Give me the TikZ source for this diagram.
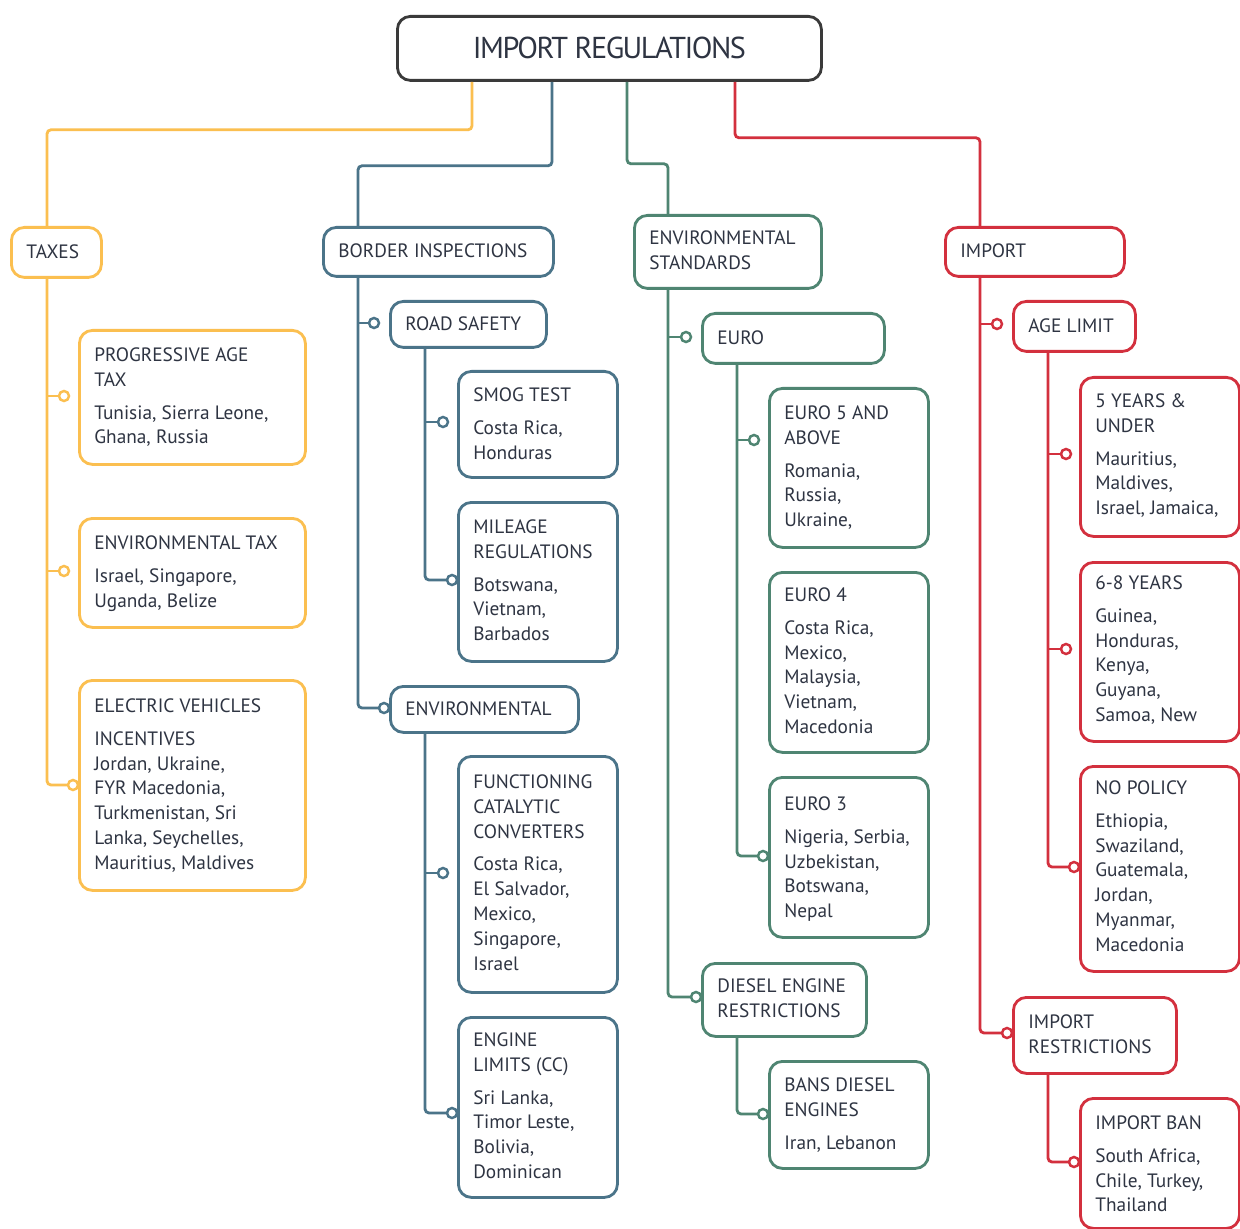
\documentclass[tikz,border=0pt]{standalone}
\usepackage{fontspec}
\setmainfont{PT Sans}
\newfontfamily\rootfont[LetterSpace=-5]{PT Sans}
\usetikzlibrary{calc}
\definecolor{cY}{HTML}{FBBF50}
\definecolor{cB}{HTML}{4B7489}
\definecolor{cG}{HTML}{4F8572}
\definecolor{cR}{HTML}{D3303E}
\definecolor{cK}{HTML}{3A3A3A}
\definecolor{txtc}{HTML}{2E3442}
\tikzset{
  box/.style={draw, line width=1.6pt, rounded corners=0.26cm, inner sep=0pt, anchor=north west},
  lbl/.style={anchor=north west, inner sep=0pt, align=left, text=txtc, font=\fontsize{11}{14.2}\selectfont},
  conn/.style={line width=1.6pt, rounded corners=0.08cm},
  tip/.style={circle, draw, line width=1.4pt, fill=white, inner sep=0pt, minimum size=0.2cm},
}
\newcommand\gp{\\[0.16cm]}
% name, colour, x1, y1, x2, y2, text top, text
\newcommand\mybox[8]{%
  \node[box, draw=#2, minimum width={(#5-#3)*0.02cm}, minimum height={(#6-#4)*0.02cm}] (#1) at (#3,#4) {};
  \node[lbl] (#1t) at (#3+16,#7) {#8};
}
\begin{document}
\begin{tikzpicture}[x=0.02cm, y=-0.02cm]
\fill[white] (0,0) rectangle (1240,1229);
\useasboundingbox (0,0) rectangle (1240,1229);

% root
\node[box, draw=cK, minimum width={424*0.02cm}, minimum height={64*0.02cm}, text=txtc, font=\rootfont\fontsize{17.2}{20}\selectfont] (root) at (396,15) {IMPORT REGULATIONS};

% taxes branch
\mybox{taxes}{cY}{10}{226}{100}{276}{244}{TAXES}
\mybox{pat}{cY}{78}{329}{304}{463}{347}{PROGRESSIVE AGE\\TAX\gp Tunisia, Sierra Leone,\\Ghana, Russia}
\mybox{etax}{cY}{78}{517}{304}{626}{535}{ENVIRONMENTAL TAX\gp Israel, Singapore,\\Uganda, Belize}
\mybox{ev}{cY}{78}{679}{304}{889}{698}{ELECTRIC VEHICLES\gp INCENTIVES\\Jordan, Ukraine,\\FYR Macedonia,\\Turkmenistan, Sri\\Lanka, Seychelles,\\Mauritius, Maldives}

% border branch
\mybox{border}{cB}{322}{226}{552}{275}{243}{BORDER INSPECTIONS}
\mybox{road}{cB}{389}{300}{545}{346}{316}{ROAD SAFETY}
\mybox{smog}{cB}{457}{370}{616}{476}{387}{SMOG TEST\gp Costa Rica,\\Honduras}
\mybox{mile}{cB}{457}{501}{616}{660}{519}{MILEAGE\\REGULATIONS\gp Botswana,\\Vietnam,\\Barbados}
\mybox{envb}{cB}{389}{685}{577}{731}{701}{ENVIRONMENTAL}
\mybox{func}{cB}{457}{755}{616}{991}{774}{FUNCTIONING\\CATALYTIC\\CONVERTERS\gp Costa Rica,\\El Salvador,\\Mexico,\\Singapore,\\Israel}
\mybox{eng}{cB}{457}{1016}{616}{1196}{1032}{ENGINE\\LIMITS (CC)\gp Sri Lanka,\\Timor Leste,\\Bolivia,\\Dominican}

% environmental standards branch
\mybox{envs}{cG}{633}{214}{820}{287}{230}{ENVIRONMENTAL\\STANDARDS}
\mybox{euro}{cG}{701}{312}{883}{362}{330}{EURO}
\mybox{e5}{cG}{768}{387}{927}{546}{405}{EURO 5 AND\\ABOVE\gp Romania,\\Russia,\\Ukraine,}
\mybox{e4}{cG}{768}{571}{927}{751}{587}{EURO 4\gp Costa Rica,\\Mexico,\\Malaysia,\\Vietnam,\\Macedonia}
\mybox{e3}{cG}{768}{776}{927}{936}{796}{EURO 3\gp Nigeria, Serbia,\\Uzbekistan,\\Botswana,\\Nepal}
\mybox{diesel}{cG}{701}{962}{865}{1035}{978}{DIESEL ENGINE\\RESTRICTIONS}
\mybox{bans}{cG}{768}{1060}{927}{1167}{1077}{BANS DIESEL\\ENGINES\gp Iran, Lebanon}

% import branch
\mybox{imp}{cR}{944}{226}{1123}{275}{243}{IMPORT}
\mybox{age}{cR}{1012}{300}{1134}{350}{318}{AGE LIMIT}
\mybox{yfive}{cR}{1079}{376}{1238}{535}{393}{5 YEARS \&\\UNDER\gp Mauritius,\\Maldives,\\Israel, Jamaica,}
\mybox{ysix}{cR}{1079}{561}{1238}{740}{575}{6-8 YEARS\gp Guinea,\\Honduras,\\Kenya,\\Guyana,\\Samoa, New}
\mybox{nop}{cR}{1079}{765}{1238}{970}{780}{NO POLICY\gp Ethiopia,\\Swaziland,\\Guatemala,\\Jordan,\\Myanmar,\\Macedonia}
\mybox{impr}{cR}{1012}{996}{1175}{1072}{1014}{IMPORT\\RESTRICTIONS}
\mybox{ban}{cR}{1079}{1097}{1238}{1227}{1115}{IMPORT BAN\gp South Africa,\\Chile, Turkey,\\Thailand}

% root connectors
\draw[conn, cY] ($(root.south west)+(76,0)$) -- ++(0,48) -| ($(taxes.north west)+(37,0)$);
\draw[conn, cB] ($(root.south west)+(156,0)$) -- ++(0,84) -| ($(border.north west)+(36,0)$);
\draw[conn, cG] ($(root.south west)+(231,0)$) -- ++(0,82) -| ($(envs.north west)+(35,0)$);
\draw[conn, cR] ($(root.south west)+(339,0)$) -- ++(0,56) -| ($(imp.north west)+(36,0)$);

% trunks ending at last child
\draw[conn, cY] ($(taxes.south west)+(37,0)$) |- ($(ev.north west)+(-5,106)$) node[tip, draw=cY] {};
\draw[conn, cB] ($(border.south west)+(36,0)$) |- ($(envb.north west)+(-5,23)$) node[tip, draw=cB] {};
\draw[conn, cB] ($(road.south west)+(36,0)$) |- ($(mile.north west)+(-5,79)$) node[tip, draw=cB] {};
\draw[conn, cB] ($(envb.south west)+(36,0)$) |- ($(eng.north west)+(-5,97)$) node[tip, draw=cB] {};
\draw[conn, cG] ($(envs.south west)+(35,0)$) |- ($(diesel.north west)+(-5,35)$) node[tip, draw=cG] {};
\draw[conn, cG] ($(euro.south west)+(36,0)$) |- ($(e3.north west)+(-5,80)$) node[tip, draw=cG] {};
\draw[conn, cG] ($(diesel.south west)+(36,0)$) |- ($(bans.north west)+(-5,54)$) node[tip, draw=cG] {};
\draw[conn, cR] ($(imp.south west)+(36,0)$) |- ($(impr.north west)+(-5,37)$) node[tip, draw=cR] {};
\draw[conn, cR] ($(age.south west)+(36,0)$) |- ($(nop.north west)+(-5,102)$) node[tip, draw=cR] {};
\draw[conn, cR] ($(impr.south west)+(36,0)$) |- ($(ban.north west)+(-5,65)$) node[tip, draw=cR] {};

% stubs to other children
\draw[conn, cY] ($(pat.north west)+(-31,67)$) -- ($(pat.north west)+(-14,67)$) node[tip, draw=cY] {};
\draw[conn, cY] ($(etax.north west)+(-31,54)$) -- ($(etax.north west)+(-14,54)$) node[tip, draw=cY] {};
\draw[conn, cB] ($(road.north west)+(-31,23)$) -- ($(road.north west)+(-15,23)$) node[tip, draw=cB] {};
\draw[conn, cB] ($(smog.north west)+(-32,52)$) -- ($(smog.north west)+(-14,52)$) node[tip, draw=cB] {};
\draw[conn, cB] ($(func.north west)+(-32,118)$) -- ($(func.north west)+(-14,118)$) node[tip, draw=cB] {};
\draw[conn, cG] ($(euro.north west)+(-33,25)$) -- ($(euro.north west)+(-15,25)$) node[tip, draw=cG] {};
\draw[conn, cG] ($(e5.north west)+(-31,53)$) -- ($(e5.north west)+(-14,53)$) node[tip, draw=cG] {};
\draw[conn, cR] ($(age.north west)+(-32,24)$) -- ($(age.north west)+(-15,24)$) node[tip, draw=cR] {};
\draw[conn, cR] ($(yfive.north west)+(-31,78)$) -- ($(yfive.north west)+(-13,78)$) node[tip, draw=cR] {};
\draw[conn, cR] ($(ysix.north west)+(-31,88)$) -- ($(ysix.north west)+(-13,88)$) node[tip, draw=cR] {};
\end{tikzpicture}
\end{document}
